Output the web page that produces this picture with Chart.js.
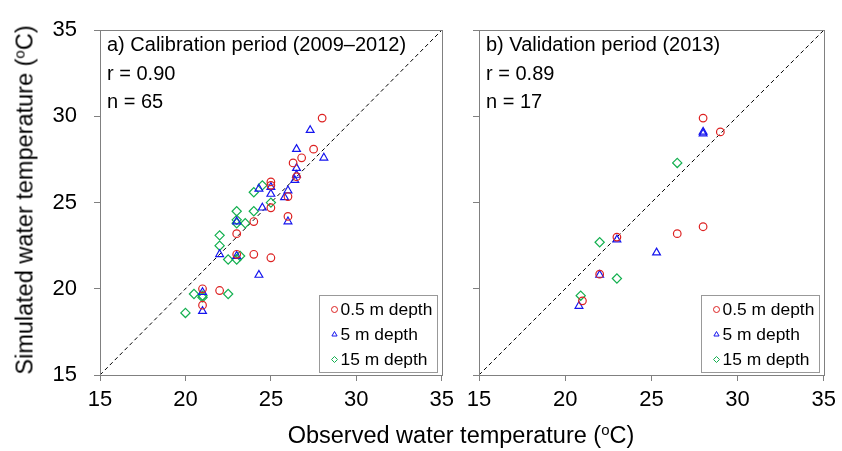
<!DOCTYPE html>
<html>
<head>
<meta charset="utf-8">
<script src="https://cdn.jsdelivr.net/npm/chart.js@4"></script>
<style>
  body { margin: 0; background: #fff; }
  #page { position: relative; width: 842px; height: 451px; font-family: "Liberation Sans", Arial, sans-serif; }
  .panel { position: absolute; top: 0; height: 451px; }
  .title { position: absolute; white-space: nowrap; font-size: 23.5px; line-height: 27px; color: #000; }
  .title sup { font-size: 15px; line-height: 0; vertical-align: 8px; }
</style>
</head>
<body>
<div id="page">
  <div class="panel" style="left:0;width:460px"><canvas id="calChart"></canvas></div>
  <div class="panel" style="left:460px;width:382px"><canvas id="valChart"></canvas></div>
  <div class="title" style="left:461px;top:422px;transform:translateX(-50%)">Observed water temperature (<sup>o</sup>C)</div>
  <div class="title" style="left:25px;top:200px;transform:translate(-50%,-50%) rotate(-90deg)">Simulated water temperature (<sup>o</sup>C)</div>
</div>
<script>
const calShallow = [
  [21, 19.05], [21, 20.0], [22, 19.9], [23, 22.0], [23, 23.2], [24, 22.0],
  [25, 21.8], [24, 23.9], [25, 24.7], [25, 26.2], [26, 25.35], [26, 24.2],
  [26.3, 27.3], [26.5, 26.5], [26.8, 27.6], [27.5, 28.1], [28, 29.9], [25, 26.0]
];
const calMid = [
  [21, 18.7], [21, 19.8], [22, 22.0], [23, 21.9], [23, 23.9], [24.3, 20.8],
  [24.5, 24.7], [24.3, 25.8], [25, 25.9], [25, 25.5], [25.8, 25.3], [26, 25.7],
  [26, 23.9], [26.4, 26.3], [26.5, 26.6], [26.5, 27.0], [26.5, 28.1], [27.3, 29.2],
  [28.1, 27.6]
];
const calDeep = [
  [20, 18.6], [20.5, 19.7], [21, 19.6], [21, 19.5], [22.5, 19.7], [22, 22.5],
  [22, 23.1], [22.5, 21.7], [23, 21.7], [23.2, 21.9], [23, 23.8], [23, 24.5],
  [23.5, 23.8], [24, 24.5], [24, 25.6], [24.5, 26.0], [25, 25.0], [23, 24.0]
];
const valShallow = [[28, 29.9], [29, 29.1], [26.5, 23.2], [28, 23.6], [23, 23.0], [22, 20.85], [21, 19.3]];
const valMid = [[28, 29.0], [28, 29.1], [25.3, 22.1], [23, 22.85], [22, 20.8], [20.8, 19.0]];
const valDeep = [[26.5, 27.3], [22, 22.7], [23, 20.6], [20.9, 19.6]];

const depthLabels = ['0.5 m depth', '5 m depth', '15 m depth'];
const axisTicks = [15, 20, 25, 30, 35];
const panelNotes = [
  ['a) Calibration period (2009\u20132012)', 'r = 0.90', 'n = 65'],
  ['b) Validation period (2013)', 'r = 0.89', 'n = 17']
];

const FONT = '"Liberation Sans", Arial, sans-serif';
Chart.defaults.font.family = FONT;
Chart.defaults.color = '#000';

const depthColors = ['#dd2222', '#1515ee', '#14b050'];
const depthStyles = ['circle', 'triangle', 'rectRot'];
const depthRadius = [3.8, 4.5, 4.6];
const axisGrey = '#808080';

function toPoints(pairs) {
  return pairs.map(p => ({ x: p[0], y: p[1] }));
}

function depthSet(pairs, i) {
  return {
    label: depthLabels[i],
    data: toPoints(pairs),
    pointStyle: depthStyles[i],
    pointRadius: depthRadius[i],
    pointBorderWidth: 1.2,
    borderColor: depthColors[i],
    backgroundColor: 'rgba(0,0,0,0)',
    pointBackgroundColor: 'rgba(0,0,0,0)',
    showLine: false
  };
}

// box, panel notes and legend drawn on top of the plot
const panelDecor = {
  id: 'panelDecor',
  afterDraw(chart) {
    const ctx = chart.ctx;
    const a = chart.chartArea;
    const notes = chart.options.plugins.panelDecor.notes;
    ctx.save();
    ctx.strokeStyle = axisGrey;
    ctx.lineWidth = 1;
    ctx.strokeRect(Math.round(a.left) + 0.5, Math.round(a.top) + 0.5,
      Math.round(a.right - a.left), Math.round(a.bottom - a.top));

    ctx.fillStyle = '#000';
    ctx.font = '20px ' + FONT;
    ctx.textAlign = 'left';
    ctx.textBaseline = 'alphabetic';
    const baselines = [21, 50, 78];
    notes.forEach((t, i) => ctx.fillText(t, a.left + 7, a.top + baselines[i]));

    // legend
    const w = 118, h = 77;
    const lx = Math.round(a.right - 5 - w) + 0.5;
    const ly = Math.round(a.bottom - 3 - h) + 0.5;
    ctx.fillStyle = '#fff';
    ctx.fillRect(lx, ly, w, h);
    ctx.strokeStyle = '#999';
    ctx.strokeRect(lx, ly, w, h);
    ctx.font = '17.4px ' + FONT;
    ctx.textBaseline = 'middle';
    const rows = [14, 39, 64];
    const sets = chart.data.datasets.filter(d => d.label);
    sets.forEach((d, i) => {
      ctx.strokeStyle = d.borderColor;
      ctx.fillStyle = 'rgba(0,0,0,0)';
      ctx.lineWidth = 1;
      Chart.helpers.drawPoint(ctx, { pointStyle: d.pointStyle, radius: 3, rotation: 0, borderWidth: 1 },
        lx + 15, ly + rows[i]);
      ctx.fillStyle = '#000';
      ctx.fillText(d.label, lx + 21, ly + rows[i] + 1);
    });
    ctx.restore();
  }
};

function axis(showLabels, fitSize, isX) {
  return {
    type: 'linear',
    min: 15,
    max: 35,
    afterBuildTicks: s => { s.ticks = axisTicks.map(v => ({ value: v })); },
    afterFit: s => { if (isX) s.height = fitSize; else s.width = fitSize; },
    ticks: {
      font: { size: 22 },
      color: '#000',
      padding: isX ? 6 : 17,
      callback: v => showLabels ? String(v) : ''
    },
    grid: { display: true, drawOnChartArea: false, drawTicks: true, tickLength: 6, color: axisGrey },
    border: { display: false }
  };
}

function makePanel(id, sets, notes, yLabels, yWidth, padRight) {
  return new Chart(document.getElementById(id), {
    type: 'scatter',
    data: {
      datasets: [
        {
          type: 'line',
          data: [{ x: 15, y: 15 }, { x: 35, y: 35 }],
          borderColor: '#000',
          borderWidth: 1,
          borderDash: [4, 3],
          pointRadius: 0,
          fill: false,
          order: 5
        },
        depthSet(sets[0], 0),
        depthSet(sets[1], 1),
        depthSet(sets[2], 2)
      ]
    },
    options: {
      responsive: true,
      maintainAspectRatio: false,
      animation: false,
      events: [],
      layout: { padding: { top: 24, right: padRight, left: 0, bottom: 0 } },
      scales: {
        x: axis(true, 76, true),
        y: axis(yLabels, yWidth, false)
      },
      plugins: {
        legend: { display: false },
        tooltip: { enabled: false },
        panelDecor: { notes: notes }
      }
    },
    plugins: [panelDecor]
  });
}

makePanel('calChart', [calShallow, calMid, calDeep], panelNotes[0], true, 100, 13);
makePanel('valChart', [valShallow, valMid, valDeep], panelNotes[1], false, 19, 15);
</script>
</body>
</html>
